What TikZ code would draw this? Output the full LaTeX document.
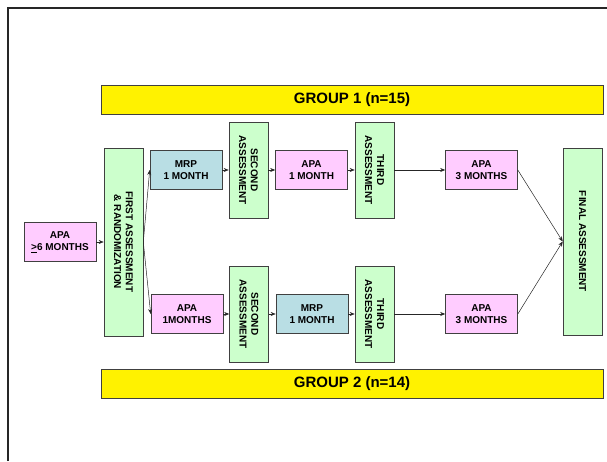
\documentclass[tikz,border=0pt]{standalone}
\usepackage{fontspec}
\setmainfont{Liberation Sans}
\usetikzlibrary{arrows.meta}

\definecolor{apapink}{HTML}{FFCCFF}
\definecolor{mrpblue}{HTML}{B9DEE4}
\definecolor{assessgreen}{HTML}{CCFFCC}
\definecolor{edgegray}{HTML}{404040}

\begin{document}
\begin{tikzpicture}[x=1pt,y=-1pt,
        box/.style={draw=edgegray, line width=0.6pt, inner sep=0pt, align=center,
            font=\bfseries\fontsize{10}{11.8}\selectfont},
        apabox/.style={box, fill=apapink, minimum width=72pt, minimum height=39pt},
        mrpbox/.style={box, fill=mrpblue, minimum width=72pt, minimum height=39pt},
        assessbox/.style={box, fill=assessgreen, minimum width=96pt, minimum height=39pt, rotate=-90},
        groupbar/.style={draw=edgegray, line width=0.7pt, fill=yellow, inner sep=0pt,
            minimum width=502pt, minimum height=29pt, font=\bfseries\fontsize{15}{18}\selectfont},
        arr/.style={draw=black!85, line width=0.5pt, -{Stealth[length=5pt,width=4pt]}}]
        \useasboundingbox (0,0) rectangle (607,461);
        \draw[line width=2pt, black!85] (8,461) -- (8,8) -- (607,8);

        % groups
        \node[groupbar] (grp1) at (352,100) {GROUP 1 (n=15)};
        \node[groupbar] (grp2) at (352,383.5) {GROUP 2 (n=14)};

        % start
        \node[apabox] (apa6) at (60,242) {APA\\\underline{>}6 MONTHS};
        \node[assessbox, minimum width=188pt] (first) at (123.5,242) {FIRST ASSESSMENT\\\& RANDOMIZATION};

        % group 1
        \node[mrpbox] (mrp1) at (186,170) {MRP\\1 MONTH};
        \node[assessbox] (sec1) at (248.5,170) {SECOND\\ASSESSMENT};
        \node[apabox] (apa1) at (311.5,170) {APA\\1 MONTH};
        \node[assessbox] (thr1) at (374.5,170) {THIRD\\ASSESSMENT};
        \node[apabox] (apa3a) at (481.5,170) {APA\\3 MONTHS};

        % group 2
        \node[apabox] (apa2) at (187,314) {APA\\1MONTHS};
        \node[assessbox] (sec2) at (249,314) {SECOND\\ASSESSMENT};
        \node[mrpbox] (mrp2) at (312,314) {MRP\\1 MONTH};
        \node[assessbox] (thr2) at (374.5,314) {THIRD\\ASSESSMENT};
        \node[apabox] (apa3b) at (481.5,314) {APA\\3 MONTHS};

        % end
        \node[assessbox, minimum width=187pt] (final) at (582.5,241.5) {FINAL ASSESSMENT};

        \draw[arr] (apa6) -- (first);
        \draw[arr] (first.north) -- (mrp1.west);
        \draw[arr] (first.north) -- (apa2.west);

        \draw[arr] (mrp1) -- (sec1);
        \draw[arr] (sec1) -- (apa1);
        \draw[arr] (apa1) -- (thr1);
        \draw[arr] (thr1) -- (apa3a);

        \draw[arr] (apa2) -- (sec2);
        \draw[arr] (sec2) -- (mrp2);
        \draw[arr] (mrp2) -- (thr2);
        \draw[arr] (thr2) -- (apa3b);

        \draw[arr] (apa3a.east) -- (final.south);
        \draw[arr] (apa3b.east) -- (final.south);
    \end{tikzpicture}
\end{document}
